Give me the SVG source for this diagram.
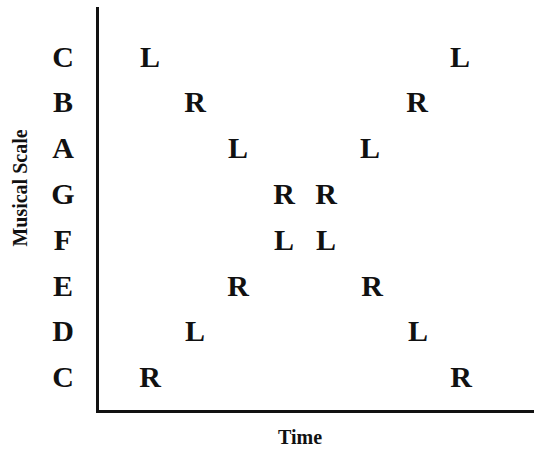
<svg xmlns="http://www.w3.org/2000/svg" width="534" height="456" viewBox="0 0 534 456">
  <style>
    .note { font-family: "Liberation Serif", "Times New Roman", serif; font-weight: bold; font-size: 30px; fill: #111; text-anchor: middle; }
    .axis-title { font-family: "Liberation Serif", "Times New Roman", serif; font-weight: bold; font-size: 20px; fill: #111; text-anchor: middle; }
    .axis { stroke: #111; stroke-width: 3; fill: none; }
  </style>
  <rect width="534" height="456" fill="#fff"/>

  <!-- axes -->
  <g id="axes">
    <path class="axis" d="M97.5 7 V411.5 H534"/>
  </g>

  <!-- axis titles -->
  <text class="axis-title" x="0" y="0" transform="translate(27 188) rotate(-90)">Musical Scale</text>
  <text class="axis-title" x="300" y="444">Time</text>

  <!-- scale degrees on the vertical axis -->
  <g id="scale">
    <text class="note" x="63" y="67">C</text>
    <text class="note" x="63" y="112">B</text>
    <text class="note" x="63" y="158">A</text>
    <text class="note" x="63" y="204">G</text>
    <text class="note" x="63" y="250">F</text>
    <text class="note" x="63" y="296">E</text>
    <text class="note" x="63" y="341">D</text>
    <text class="note" x="63" y="387">C</text>
  </g>

  <!-- left / right hand sequence over time -->
  <g id="hands">
    <text class="note" x="150" y="67">L</text>
    <text class="note" x="195" y="112">R</text>
    <text class="note" x="238" y="158">L</text>
    <text class="note" x="284" y="204">R</text>
    <text class="note" x="326" y="204">R</text>
    <text class="note" x="370" y="158">L</text>
    <text class="note" x="417" y="112">R</text>
    <text class="note" x="460" y="67">L</text>

    <text class="note" x="150" y="387">R</text>
    <text class="note" x="195" y="341">L</text>
    <text class="note" x="238" y="296">R</text>
    <text class="note" x="284" y="250">L</text>
    <text class="note" x="326" y="250">L</text>
    <text class="note" x="372" y="296">R</text>
    <text class="note" x="418" y="341">L</text>
    <text class="note" x="461" y="387">R</text>
  </g>
</svg>
